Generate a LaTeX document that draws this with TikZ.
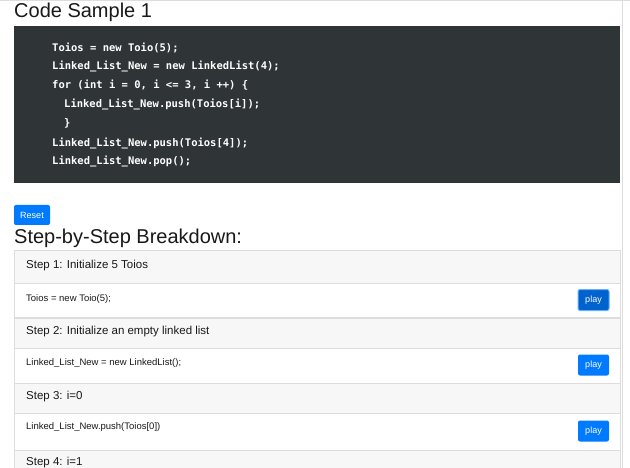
\documentclass[tikz,border=0pt]{standalone}
\usepackage{fontspec}
\setmainfont{Liberation Sans}
\setmonofont{DejaVu Sans Mono}
\definecolor{codebg}{HTML}{2F3437}
\definecolor{bsblue}{HTML}{007BFF}
\definecolor{hdrbg}{HTML}{F7F7F7}
\definecolor{bord}{HTML}{DDDDDD}
\tikzset{
 codeline/.style={anchor=west,text=white,font=\ttfamily\bfseries\fontsize{10.5}{12}\selectfont,inner sep=0},
 hdrtxt/.style={anchor=west,font=\fontsize{11.5}{13}\selectfont,inner sep=0,text=black!90},
 bodytxt/.style={anchor=west,font=\fontsize{9.5}{11}\selectfont,inner sep=0,text=black!90},
 btn/.style={fill=bsblue,rounded corners=2pt,text=white,font=\fontsize{9}{10}\selectfont,inner sep=0,minimum width=31pt,minimum height=21pt},
 hdr/.style={fill=hdrbg,draw=bord,line width=0.5pt},
 bdy/.style={fill=white,draw=bord,line width=0.5pt},
 big/.style={anchor=west,font=\fontsize{20}{23}\selectfont,inner sep=0,text=black!90}
}
\begin{document}
\begin{tikzpicture}[x=1pt,y=-1pt]
\useasboundingbox (0,0) rectangle (630,468);
\fill[white] (0,0) rectangle (630,468);
\draw[bord] (0,0.5) -- (630,0.5);
\draw[bord] (622,0) -- (622,468);
\node[big] (title) at (14,12) {Code Sample 1};
\fill[codebg] (14,26) rectangle (620,183);
\node[codeline] (c1) at (52,48) {Toios = new Toio(5);};
\node[codeline] (c2) at (52,66.5) {Linked\_List\_New = new LinkedList(4);};
\node[codeline] (c3) at (52,85) {for (int i = 0, i <= 3, i ++) \{};
\node[codeline] (c4) at (64,104) {Linked\_List\_New.push(Toios[i]);};
\node[codeline] (c5) at (64,123) {\}};
\node[codeline] (c6) at (52,143) {Linked\_List\_New.push(Toios[4]);};
\node[codeline] (c7) at (52,161) {Linked\_List\_New.pop();};
\node[btn,minimum width=36pt,minimum height=20pt] (reset) at (32,215) {Reset};
\node[big] (sbs) at (14,238) {Step-by-Step Breakdown:};
% step 1
\draw[hdr] (14,250) rectangle (620,283);
\node[hdrtxt] (h1) at (26,266) {Step 1: Initialize 5 Toios};
\draw[bdy] (14,283) rectangle (620,317);
\node[bodytxt] (b1) at (26,299) {Toios = new Toio(5);};
\node[btn,fill=bsblue!80!black,draw=bsblue!60,line width=1pt] (p1) at (593.5,300) {play};
% step 2
\draw[hdr] (14,318) rectangle (620,348);
\node[hdrtxt] (h2) at (26,332) {Step 2: Initialize an empty linked list};
\draw[bdy] (14,348) rectangle (620,383);
\node[bodytxt] (b2) at (26,363) {Linked\_List\_New = new LinkedList();};
\node[btn] (p2) at (593.5,365) {play};
% step 3
\draw[hdr] (14,383) rectangle (620,413);
\node[hdrtxt] (h3) at (26,397) {Step 3: i=0};
\draw[bdy] (14,413) rectangle (620,450);
\node[bodytxt] (b3) at (26,427) {Linked\_List\_New.push(Toios[0])};
\node[btn] (p3) at (593.5,431) {play};
% step 4
\draw[hdr] (14,450) rectangle (620,472);
\node[hdrtxt] (h4) at (26,463) {Step 4: i=1};
\end{tikzpicture}
\end{document}
